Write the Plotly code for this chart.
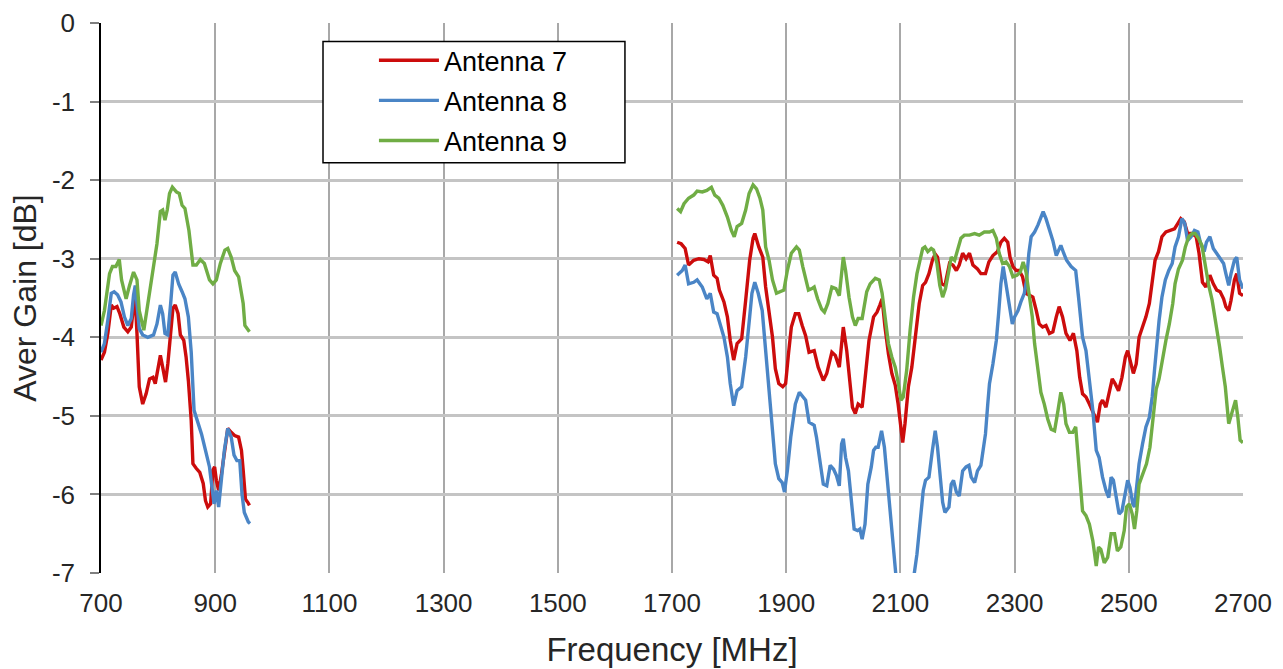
import plotly.graph_objects as go

# ---- measured average gain per antenna, low band (700-960 MHz) ----
ant7_low_freq = [700, 706, 712, 718, 722, 728, 733, 740, 747, 753, 757, 760, 763, 767, 773,
                 779, 785, 791, 795, 799, 804, 808, 813, 817, 822, 826, 830, 835, 839, 845,
                 849, 853, 858, 861, 867, 873, 879, 883, 887, 892, 896, 899, 902, 906, 911,
                 918, 922, 928, 934, 941, 946, 949, 953, 957, 960]
ant7_low_gain = [-4.29, -4.19, -3.95, -3.59, -3.63, -3.61, -3.70, -3.87, -3.93, -3.87,
                 -3.61, -3.51, -3.95, -4.63, -4.85, -4.72, -4.53, -4.51, -4.59, -4.40,
                 -4.23, -4.38, -4.57, -4.34, -3.95, -3.63, -3.59, -3.70, -3.97, -4.04,
                 -4.25, -4.55, -5.06, -5.61, -5.67, -5.72, -5.86, -6.08, -6.16, -6.12,
                 -5.69, -5.65, -5.82, -5.95, -5.74, -5.36, -5.16, -5.21, -5.25, -5.27,
                 -5.44, -5.69, -6.06, -6.10, -6.14]

ant8_low_freq = [700, 706, 712, 718, 723, 729, 735, 741, 747, 753, 757, 760, 763, 767, 773,
                 782, 792, 798, 804, 808, 812, 817, 822, 826, 830, 836, 842, 847, 853, 858,
                 863, 870, 876, 883, 890, 894, 898, 902, 906, 911, 916, 922, 928, 933, 938,
                 943, 947, 951, 958, 961]
ant8_low_gain = [-4.19, -4.08, -3.78, -3.44, -3.42, -3.46, -3.55, -3.74, -3.85, -3.76,
                 -3.46, -3.34, -3.57, -3.89, -3.97, -4.00, -3.97, -3.83, -3.59, -3.70,
                 -3.95, -3.97, -3.57, -3.21, -3.17, -3.32, -3.42, -3.51, -3.74, -4.19,
                 -4.93, -5.08, -5.23, -5.44, -5.65, -5.89, -6.12, -5.95, -6.16, -5.80,
                 -5.44, -5.16, -5.27, -5.50, -5.57, -5.57, -6.00, -6.23, -6.35, -6.37]

ant9_low_freq = [700, 706, 715, 720, 726, 732, 736, 744, 750, 757, 763, 767, 775, 782, 792,
                 798, 804, 808, 812, 816, 820, 825, 832, 837, 842, 847, 854, 861, 867, 874,
                 881, 890, 896, 902, 909, 917, 922, 928, 934, 941, 949, 952, 960]
ant9_low_gain = [-3.85, -3.66, -3.19, -3.10, -3.10, -3.01, -3.27, -3.51, -3.34, -3.17,
                 -3.27, -3.66, -3.91, -3.57, -3.15, -2.81, -2.40, -2.38, -2.51, -2.38,
                 -2.17, -2.09, -2.15, -2.17, -2.32, -2.36, -2.64, -3.08, -3.08, -3.01,
                 -3.06, -3.27, -3.32, -3.27, -3.06, -2.89, -2.87, -2.98, -3.15, -3.23,
                 -3.57, -3.85, -3.93]

# ---- high band (1700-2700 MHz) ----
ant7_high_freq = [1709, 1716, 1723, 1729, 1738, 1747, 1756, 1763, 1767, 1773, 1779, 1783, 1791,
                  1797, 1802, 1808, 1814, 1822, 1829, 1836, 1842, 1845, 1852, 1859, 1864, 1870,
                  1876, 1881, 1887, 1894, 1899, 1904, 1909, 1916, 1922, 1928, 1934, 1940, 1949,
                  1951, 1956, 1965, 1971, 1980, 1986, 1993, 1997, 2000, 2006, 2012, 2016, 2021,
                  2026, 2033, 2039, 2045, 2053, 2059, 2064, 2068, 2073, 2079, 2085, 2091, 2096,
                  2101, 2104, 2108, 2114, 2120, 2126, 2133, 2139, 2144, 2150, 2156, 2161, 2165,
                  2172, 2178,
                  2186, 2192, 2198, 2203, 2209, 2215, 2221, 2227, 2235, 2241, 2249, 2255, 2262,
                  2270, 2276, 2282, 2288, 2292, 2297, 2303, 2308, 2314, 2320, 2326, 2332, 2338,
                  2343, 2349, 2355, 2361, 2367, 2373, 2378, 2384, 2390, 2397, 2403, 2409, 2414,
                  2419,
                  2425, 2431, 2437, 2443, 2445, 2450, 2454, 2460, 2466, 2471, 2476, 2482, 2488,
                  2494, 2498, 2503, 2508, 2513, 2518, 2524, 2530, 2536, 2541, 2546, 2552, 2558,
                  2565, 2574, 2580, 2586, 2591, 2597, 2603, 2611, 2618, 2623, 2629, 2635, 2642,
                  2648, 2654, 2660, 2666, 2670, 2675, 2679, 2685, 2689, 2694, 2700]
ant7_high_gain = [-2.79, -2.81, -2.87, -3.08, -3.02, -3.00, -3.01, -3.04, -2.96, -3.21,
                  -3.25, -3.40, -3.55, -3.74, -4.04, -4.29, -4.08, -4.02, -3.53, -3.02,
                  -2.74, -2.68, -2.85, -2.98, -3.36, -3.66, -4.00, -4.40, -4.59, -4.63,
                  -4.59, -4.21, -3.87, -3.70, -3.70, -3.85, -3.98, -4.19, -4.17,
                  -4.23, -4.38, -4.55, -4.46, -4.19, -4.23, -4.38, -4.08, -3.87, -4.17,
                  -4.59, -4.89, -4.97, -4.85, -4.89, -4.46, -4.04, -3.74, -3.68, -3.59,
                  -3.51, -3.87, -4.21, -4.46, -4.61, -4.85, -5.19, -5.34, -5.10, -4.63,
                  -4.38, -3.96, -3.57, -3.34, -3.30, -3.19, -3.02, -2.94, -2.98, -3.32,
                  -3.34,
                  -3.06, -3.08, -3.15, -3.08, -2.93, -3.00, -2.93, -3.08, -3.13, -3.19,
                  -3.19, -3.04, -2.96, -2.91, -2.79, -2.74, -2.79, -2.98, -3.10, -3.15,
                  -3.15, -3.23, -3.44, -3.47, -3.49, -3.66, -3.83, -3.87, -3.85, -3.95,
                  -3.93, -3.74, -3.61, -3.74, -3.95, -4.04, -3.95, -4.17, -4.51, -4.72,
                  -4.76, -4.85, -4.95, -5.04, -5.08, -4.85, -4.80, -4.89, -4.68, -4.53,
                  -4.59, -4.68, -4.51, -4.25, -4.17, -4.34, -4.46, -4.34, -4.00, -3.87,
                  -3.74, -3.57, -3.27, -3.02, -2.91, -2.72, -2.66, -2.64, -2.62, -2.55,
                  -2.49, -2.53, -2.68, -2.68, -2.72, -2.93, -3.30, -3.36, -3.21, -3.32,
                  -3.40, -3.42, -3.51, -3.61, -3.66, -3.53, -3.27, -3.19, -3.44, -3.47]

ant8_high_freq = [1709, 1718, 1723, 1729, 1738, 1744, 1753, 1761, 1767, 1773, 1779, 1785, 1791,
                  1797, 1802, 1808, 1814, 1822, 1829, 1836, 1840, 1845, 1851, 1858, 1864, 1870,
                  1876, 1881, 1887, 1893, 1897, 1902, 1908, 1916, 1923, 1929, 1934, 1940, 1949,
                  1953, 1959, 1965, 1971, 1977, 1983, 1988, 1993, 1997, 2000, 2004, 2009, 2015,
                  2019, 2025, 2029, 2033, 2038, 2043, 2049, 2053, 2057, 2061, 2067, 2072, 2077,
                  2082, 2086, 2089, 2092, 2108, 2124, 2129, 2134, 2140, 2144, 2150, 2156, 2161,
                  2165, 2169, 2174, 2178,
                  2185, 2189, 2193, 2198, 2203, 2209, 2215, 2220, 2224, 2230, 2235, 2241, 2245,
                  2249, 2253, 2256, 2262, 2268, 2272, 2276, 2280, 2285, 2291, 2296, 2300, 2306,
                  2311, 2317, 2321, 2325, 2329, 2335, 2341, 2346, 2350, 2355, 2361, 2367, 2373,
                  2377, 2381, 2386, 2391, 2399, 2407, 2412, 2419,
                  2425, 2431, 2437, 2443, 2448, 2454, 2460, 2465, 2469, 2473, 2478, 2483, 2488,
                  2494, 2498, 2502, 2507, 2510, 2514, 2518, 2524, 2530, 2536, 2541, 2545, 2549,
                  2553, 2558, 2564, 2570, 2576, 2581, 2587, 2593, 2598, 2603, 2609, 2615, 2621,
                  2626, 2632, 2636, 2642, 2648, 2654, 2660, 2666, 2670, 2675, 2679, 2685, 2689,
                  2694, 2700]
ant8_high_gain = [-3.21, -3.15, -3.08, -3.32, -3.30, -3.27, -3.36, -3.51, -3.44, -3.68,
                  -3.70, -3.87, -4.00, -4.25, -4.59, -4.87, -4.68, -4.63, -4.25, -3.74,
                  -3.44, -3.30, -3.44, -3.66, -4.17, -4.68, -5.19, -5.61, -5.80, -5.85,
                  -5.97, -5.70, -5.27, -4.85, -4.70, -4.76, -4.80, -5.08, -5.12,
                  -5.27, -5.61, -5.87, -5.89, -5.63, -5.68, -5.76, -5.89, -5.36, -5.29,
                  -5.53, -5.70, -6.12, -6.44, -6.46, -6.44, -6.57, -6.38, -5.87, -5.65,
                  -5.44, -5.40, -5.40, -5.19, -5.40, -5.82, -6.25, -6.59, -6.76, -7.02,
                  -7.60, -7.02, -6.76, -6.38, -5.95, -5.82, -5.78, -5.44, -5.19, -5.40,
                  -5.70, -6.10, -6.23,
                  -6.16, -5.87, -5.82, -5.97, -6.02, -5.70, -5.65, -5.63, -5.78, -5.85,
                  -5.70, -5.63, -5.40, -5.23, -4.85, -4.59, -4.34, -4.04, -3.70, -3.32,
                  -3.10, -3.32, -3.57, -3.83, -3.74, -3.66, -3.55, -3.44, -3.27, -2.93,
                  -2.72, -2.66, -2.57, -2.47, -2.40, -2.49, -2.62, -2.77, -2.96, -2.89,
                  -2.83, -2.93, -3.02, -3.10, -3.15, -3.49, -4.00,
                  -4.17, -4.51, -4.93, -5.44, -5.53, -5.78, -5.95, -6.04, -5.78, -5.82,
                  -6.04, -6.25, -6.21, -5.95, -5.82, -5.91, -6.12, -6.16, -5.91, -5.61,
                  -5.36, -5.14, -5.02, -4.76, -4.42, -4.08, -3.79, -3.49, -3.27, -3.15,
                  -3.06, -2.85, -2.72, -2.49, -2.55, -2.77, -2.72, -2.64, -2.66, -2.81,
                  -2.91, -2.79, -2.72, -2.87, -2.93, -3.00, -3.06, -3.19, -3.34, -3.19,
                  -3.02, -2.98, -3.27, -3.38]

ant9_high_freq = [1709, 1715, 1721, 1729, 1738, 1744, 1753, 1761, 1769, 1775, 1782, 1789, 1797,
                  1804, 1809, 1814, 1822, 1829, 1835, 1842, 1848, 1854, 1859, 1864, 1870, 1876,
                  1883, 1890, 1896, 1902, 1909, 1918, 1923, 1929,
                  1935, 1939, 1945, 1949, 1955, 1962, 1967, 1973, 1980, 1987, 1993, 1996, 2000,
                  2004, 2010, 2016, 2021, 2026, 2033, 2041, 2047, 2056, 2063, 2068, 2073, 2079,
                  2085, 2091, 2096, 2101, 2105, 2111, 2117, 2123, 2129, 2134, 2139, 2143, 2148,
                  2154, 2158, 2164, 2169, 2174, 2179,
                  2185, 2189, 2195, 2200, 2206, 2212, 2221, 2230, 2238, 2247, 2256, 2262, 2268,
                  2273, 2279, 2285, 2291, 2297, 2304, 2310, 2315, 2320, 2326, 2331, 2335, 2341,
                  2346, 2352, 2358, 2364, 2370, 2376, 2381, 2386, 2390, 2396, 2402, 2407, 2411,
                  2415, 2419,
                  2425, 2431, 2437, 2443, 2447, 2451, 2457, 2463, 2469, 2475, 2480, 2486, 2492,
                  2496, 2501, 2506, 2510, 2514, 2518, 2524, 2531, 2537, 2542, 2548, 2553, 2559,
                  2565, 2571, 2577, 2581, 2587, 2594, 2599, 2605, 2611, 2616, 2622, 2628, 2634,
                  2640, 2646, 2653, 2659, 2664, 2669, 2675, 2681, 2687, 2691, 2695, 2700]
ant9_high_gain = [-2.36, -2.40, -2.30, -2.23, -2.19, -2.14, -2.15, -2.13, -2.09, -2.19,
                  -2.23, -2.32, -2.47, -2.64, -2.72, -2.59, -2.55, -2.38, -2.17, -2.06,
                  -2.11, -2.23, -2.38, -2.85, -3.02, -3.27, -3.44, -3.42, -3.40, -3.15,
                  -2.93, -2.85, -2.89, -3.10,
                  -3.30, -3.40, -3.38, -3.36, -3.51, -3.64, -3.68, -3.57, -3.36, -3.38,
                  -3.47, -3.23, -2.98, -3.15, -3.49, -3.74, -3.85, -3.76, -3.76, -3.42,
                  -3.32, -3.25, -3.27, -3.44, -3.70, -4.08, -4.25, -4.38, -4.57, -4.80,
                  -4.76, -4.42, -3.91, -3.49, -3.19, -3.04, -2.87, -2.85, -2.91, -2.87,
                  -2.89, -3.06, -3.34, -3.49, -3.38,
                  -3.15, -2.98, -3.02, -2.89, -2.74, -2.70, -2.70, -2.68, -2.70, -2.66,
                  -2.66, -2.64, -2.74, -2.93, -3.06, -3.04, -3.10, -3.23, -3.21, -3.17,
                  -3.04, -3.17, -3.49, -3.74, -4.08, -4.38, -4.70, -4.85, -5.04, -5.17,
                  -5.19, -4.93, -4.70, -4.85, -5.10, -5.21, -5.21, -5.14, -5.48, -5.87,
                  -6.21,
                  -6.27, -6.38, -6.59, -6.91, -6.67, -6.70, -6.87, -6.80, -6.50, -6.50,
                  -6.72, -6.67, -6.46, -6.16, -6.12, -6.25, -6.44, -6.21, -5.87, -5.74,
                  -5.61, -5.40, -5.02, -4.66, -4.53, -4.25, -4.04, -3.83, -3.57, -3.32,
                  -3.13, -3.02, -2.85, -2.72, -2.68, -2.68, -2.74, -2.83, -3.10, -3.34,
                  -3.53, -3.83, -4.12, -4.38, -4.63, -5.10, -4.93, -4.80, -5.02, -5.31,
                  -5.34]

series_names = ["Antenna 7", "Antenna 8", "Antenna 9"]
series_colors = ["#cc0c0c", "#4a85c6", "#70ad45"]
x_ticks = [700, 900, 1100, 1300, 1500, 1700, 1900, 2100, 2300, 2500, 2700]
y_ticks = [0, -1, -2, -3, -4, -5, -6, -7]

bands = [
    (ant7_low_freq, ant7_low_gain, ant7_high_freq, ant7_high_gain),
    (ant8_low_freq, ant8_low_gain, ant8_high_freq, ant8_high_gain),
    (ant9_low_freq, ant9_low_gain, ant9_high_freq, ant9_high_gain),
]

FONT = "Liberation Sans, Arial, sans-serif"
TEXT = "#262626"

fig = go.Figure()
for name, color, (lf, lg, hf, hg) in zip(series_names, series_colors, bands):
    # a None between the two bands leaves the unmeasured range empty
    fig.add_trace(go.Scatter(
        x=list(lf) + [None] + list(hf),
        y=list(lg) + [None] + list(hg),
        mode="lines", name=name, legendgroup=name,
        line=dict(color=color, width=3.4),
        connectgaps=False,
    ))

# white legend frame
fig.add_shape(type="rect", xref="paper", yref="paper",
              x0=0.1944, x1=0.4588, y0=0.746, y1=0.9665,
              line=dict(color="#000000", width=1.5), fillcolor="#ffffff", layer="above")

fig.update_layout(
    width=1283, height=669,
    margin=dict(l=101, r=40, t=23, b=96, autoexpand=False),
    paper_bgcolor="#ffffff", plot_bgcolor="#ffffff",
    font=dict(family=FONT, color=TEXT),
    showlegend=True,
    legend=dict(
        x=0.239, y=0.976, xanchor="left", yanchor="top",
        bgcolor="rgba(0,0,0,0)", borderwidth=0,
        font=dict(family=FONT, size=27, color="#000000"),
        traceorder="grouped", tracegroupgap=2, itemwidth=60,
    ),
    xaxis=dict(
        range=[700, 2700], tickvals=x_ticks, ticktext=[str(v) for v in x_ticks],
        showgrid=True, gridcolor="#a8a8a8", gridwidth=2,
        zeroline=False, showline=False, ticks="", automargin=False,
        tickfont=dict(family=FONT, size=26, color=TEXT),
        ticklabelstandoff=12,
        title=dict(text="Frequency [MHz]", font=dict(family=FONT, size=33, color=TEXT),
                   standoff=20),
    ),
    yaxis=dict(
        range=[-7, 0], tickvals=y_ticks, ticktext=[str(v) for v in y_ticks],
        showgrid=True, gridcolor="#c4c4c4", gridwidth=2.5,
        zeroline=False, showline=True, linecolor="#000000", linewidth=1.5,
        ticks="outside", ticklen=9, tickwidth=2, tickcolor="#7f7f7f", automargin=False,
        tickfont=dict(family=FONT, size=26, color=TEXT),
        ticklabelstandoff=10,
        title=dict(text="Aver Gain [dB]", font=dict(family=FONT, size=32, color=TEXT),
                   standoff=6),
    ),
)

fig.write_html("out.html")
